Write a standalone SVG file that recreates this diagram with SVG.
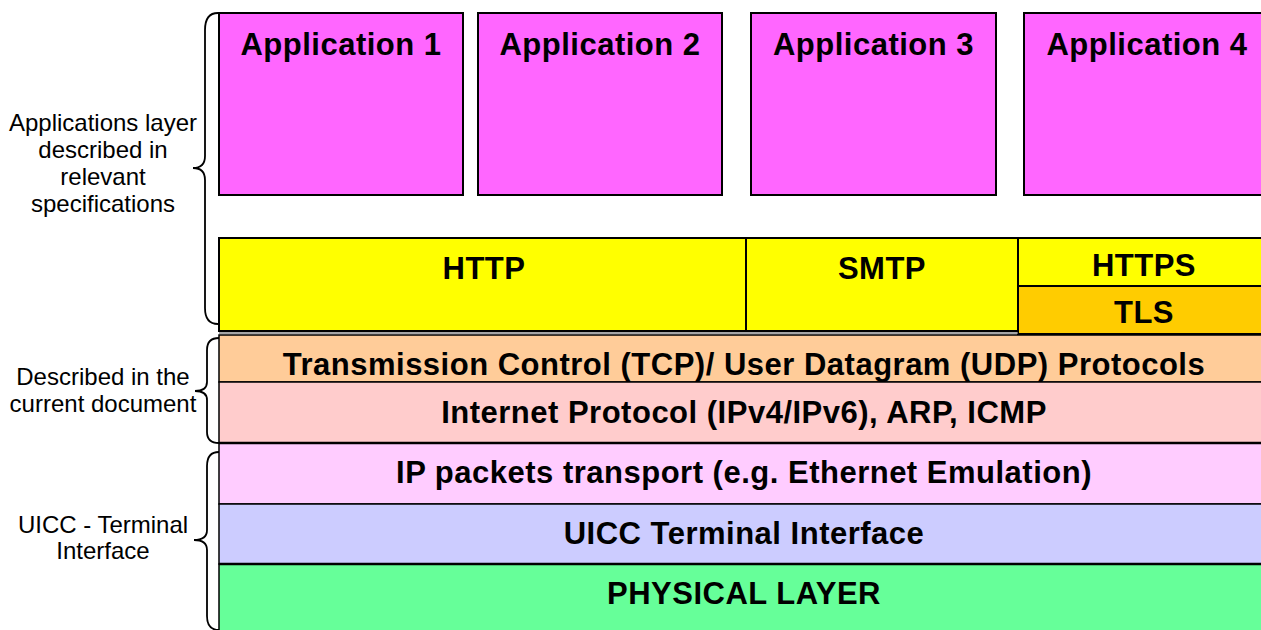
<svg xmlns="http://www.w3.org/2000/svg" width="1261" height="630" viewBox="0 0 1261 630">
<style>
.box{stroke:#000;stroke-width:2}
.lyr{stroke:#000;stroke-width:1.5}
.b{font-family:"Liberation Sans",Arial,sans-serif;font-weight:bold;font-size:31px;letter-spacing:0.5px;text-anchor:middle;fill:#000}
.l{font-family:"Liberation Sans",Arial,sans-serif;font-size:24px;text-anchor:middle;fill:#000}
.brace{fill:none;stroke:#000;stroke-width:1.8}
</style>
<rect width="1261" height="630" fill="#fff"/>
<g id="app1"><rect class="box" x="219" y="13" width="244" height="182" fill="#FF66FF"/><text class="b" x="341" y="55">Application 1</text></g>
<g id="app2"><rect class="box" x="478" y="13" width="244" height="182" fill="#FF66FF"/><text class="b" x="600" y="55">Application 2</text></g>
<g id="app3"><rect class="box" x="751" y="13" width="245" height="182" fill="#FF66FF"/><text class="b" x="873.5" y="55">Application 3</text></g>
<g id="app4"><rect class="box" x="1024" y="13" width="246" height="182" fill="#FF66FF"/><text class="b" x="1147" y="55">Application 4</text></g>
<g id="http"><rect class="box" x="219" y="238" width="527" height="93" fill="#FFFF00"/><text class="b" x="484" y="279">HTTP</text></g>
<g id="smtp"><rect class="box" x="746" y="238" width="272" height="93" fill="#FFFF00"/><text class="b" x="882" y="279">SMTP</text></g>
<g id="https"><rect class="box" x="1018" y="238" width="252" height="48" fill="#FFFF00"/><text class="b" x="1144" y="276">HTTPS</text></g>
<g id="tls"><rect class="box" x="1018" y="286" width="252" height="48" fill="#FFCC00"/><text class="b" x="1144" y="323">TLS</text></g>
<line x1="219" y1="333" x2="1018" y2="333" stroke="#888" stroke-width="1.5"/>
<g id="tcp"><rect class="lyr" x="219" y="335" width="1051" height="47" fill="#FFCC99"/><text class="b" x="744" y="375">Transmission Control (TCP)/ User Datagram (UDP) Protocols</text></g>
<g id="ip"><rect class="lyr" x="219" y="382" width="1051" height="61" fill="#FFCCCC"/><text class="b" x="744" y="423">Internet Protocol (IPv4/IPv6), ARP, ICMP</text></g>
<g id="ippackets"><rect class="lyr" x="219" y="443" width="1051" height="61" fill="#FFCCFF"/><text class="b" x="744" y="483">IP packets transport (e.g. Ethernet Emulation)</text></g>
<g id="uicc"><rect class="lyr" x="219" y="504" width="1051" height="60" fill="#CCCCFF"/><text class="b" x="744" y="544">UICC Terminal Interface</text></g>
<g id="physical"><rect class="lyr" x="219" y="564" width="1051" height="70" fill="#66FF99"/><text class="b" x="744" y="604">PHYSICAL LAYER</text></g>
<line x1="219" y1="443" x2="1270" y2="443" stroke="#000" stroke-width="2.5"/>
<line x1="219" y1="564" x2="1270" y2="564" stroke="#000" stroke-width="2.5"/>
<g id="braces">
<path class="brace" d="M218,13 Q205,13 205,30 L205,156 Q205,168 193,168 Q205,168 205,180 L205,308 Q205,324 218,324"/>
<path class="brace" d="M219,338 Q207,338 207,350 L207,382 Q207,391 195,391 Q207,391 207,400 L207,432 Q207,443 219,443"/>
<path class="brace" d="M219,452 Q207,452 207,466 L207,530 Q207,540 194,540 Q207,540 207,550 L207,616 Q207,630 219,630"/>
</g>
<g id="labels">
<text class="l" x="103" y="131">Applications layer</text>
<text class="l" x="103" y="158">described in</text>
<text class="l" x="103" y="185">relevant</text>
<text class="l" x="103" y="212">specifications</text>
<text class="l" x="103" y="385">Described in the</text>
<text class="l" x="103" y="412">current document</text>
<text class="l" x="103" y="533">UICC - Terminal</text>
<text class="l" x="103" y="559">Interface</text>
</g>
</svg>
